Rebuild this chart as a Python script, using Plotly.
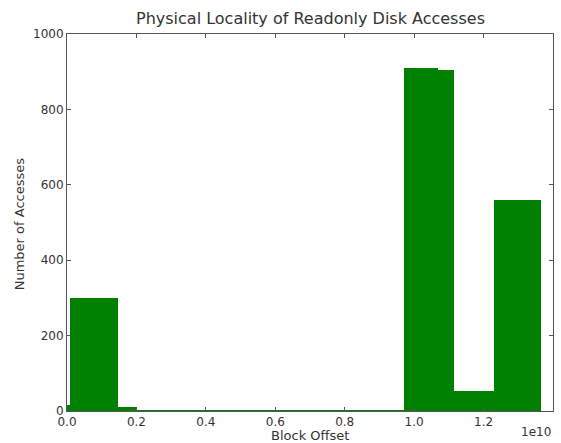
import plotly.graph_objects as go

# Bin edges (block offsets) and access counts
bin_left = [0.0, 0.010e10, 0.147e10, 0.202e10, 0.970e10, 1.069e10, 1.116e10, 1.229e10]
bin_right = [0.010e10, 0.147e10, 0.202e10, 0.970e10, 1.069e10, 1.116e10, 1.229e10, 1.366e10]
counts = [15, 301, 11, 1, 909, 904, 52, 561]

x_ticks = [0, 0.2e10, 0.4e10, 0.6e10, 0.8e10, 1.0e10, 1.2e10, 1.4e10]
x_tick_labels = ["0.0", "0.2", "0.4", "0.6", "0.8", "1.0", "1.2", "1.4"]
y_ticks = [0, 200, 400, 600, 800, 1000]

centers = [(a + b) / 2 for a, b in zip(bin_left, bin_right)]
widths = [b - a for a, b in zip(bin_left, bin_right)]

fig = go.Figure(go.Bar(
    x=centers, y=counts, width=widths,
    marker=dict(color="#008000", line=dict(width=0)),
    hoverinfo="skip",
))

W, H = 561, 443
L, R, T, B = 66.5, 8, 34, 31.5
font = "DejaVu Sans, sans-serif"
axis_common = dict(
    showgrid=False, zeroline=False, showline=True, linecolor="#555", linewidth=1,
    mirror="ticks", ticks="inside", ticklen=4, tickcolor="#555",
    tickfont=dict(family=font, size=12, color="#333"),
)
fig.update_layout(
    width=W, height=H,
    margin=dict(l=L, r=R, t=T, b=B, pad=0),
    paper_bgcolor="white", plot_bgcolor="white",
    showlegend=False, bargap=0,
    xaxis=dict(range=[0, 1.4e10], tickvals=x_ticks, ticktext=x_tick_labels, **axis_common),
    yaxis=dict(range=[0, 1000], tickvals=y_ticks, **axis_common),
    font=dict(family=font, color="#333"),
)
pw = W - L - R
ph = H - T - B
def px(x):
    return (x - L) / pw
def py(y):
    return (H - B - y) / ph

fig.add_annotation(text="Physical Locality of Readonly Disk Accesses", x=px(310), y=py(18),
                   xref="paper", yref="paper", showarrow=False, xanchor="center", yanchor="middle",
                   font=dict(size=16, family=font, color="#333"))
fig.add_annotation(text="Block Offset", x=px(309.5), y=py(436.5), xref="paper", yref="paper",
                   showarrow=False, xanchor="center", yanchor="middle",
                   font=dict(size=13, family=font, color="#333"))
fig.add_annotation(text="Number of Accesses", x=px(19), y=py(224), xref="paper", yref="paper",
                   showarrow=False, xanchor="center", yanchor="middle", textangle=-90,
                   font=dict(size=13, family=font, color="#333"))
fig.add_annotation(text="1e10", x=px(553), y=py(433), xref="paper", yref="paper",
                   showarrow=False, xanchor="right", yanchor="middle",
                   font=dict(size=12, family=font, color="#333"))

fig.write_html("out.html")
